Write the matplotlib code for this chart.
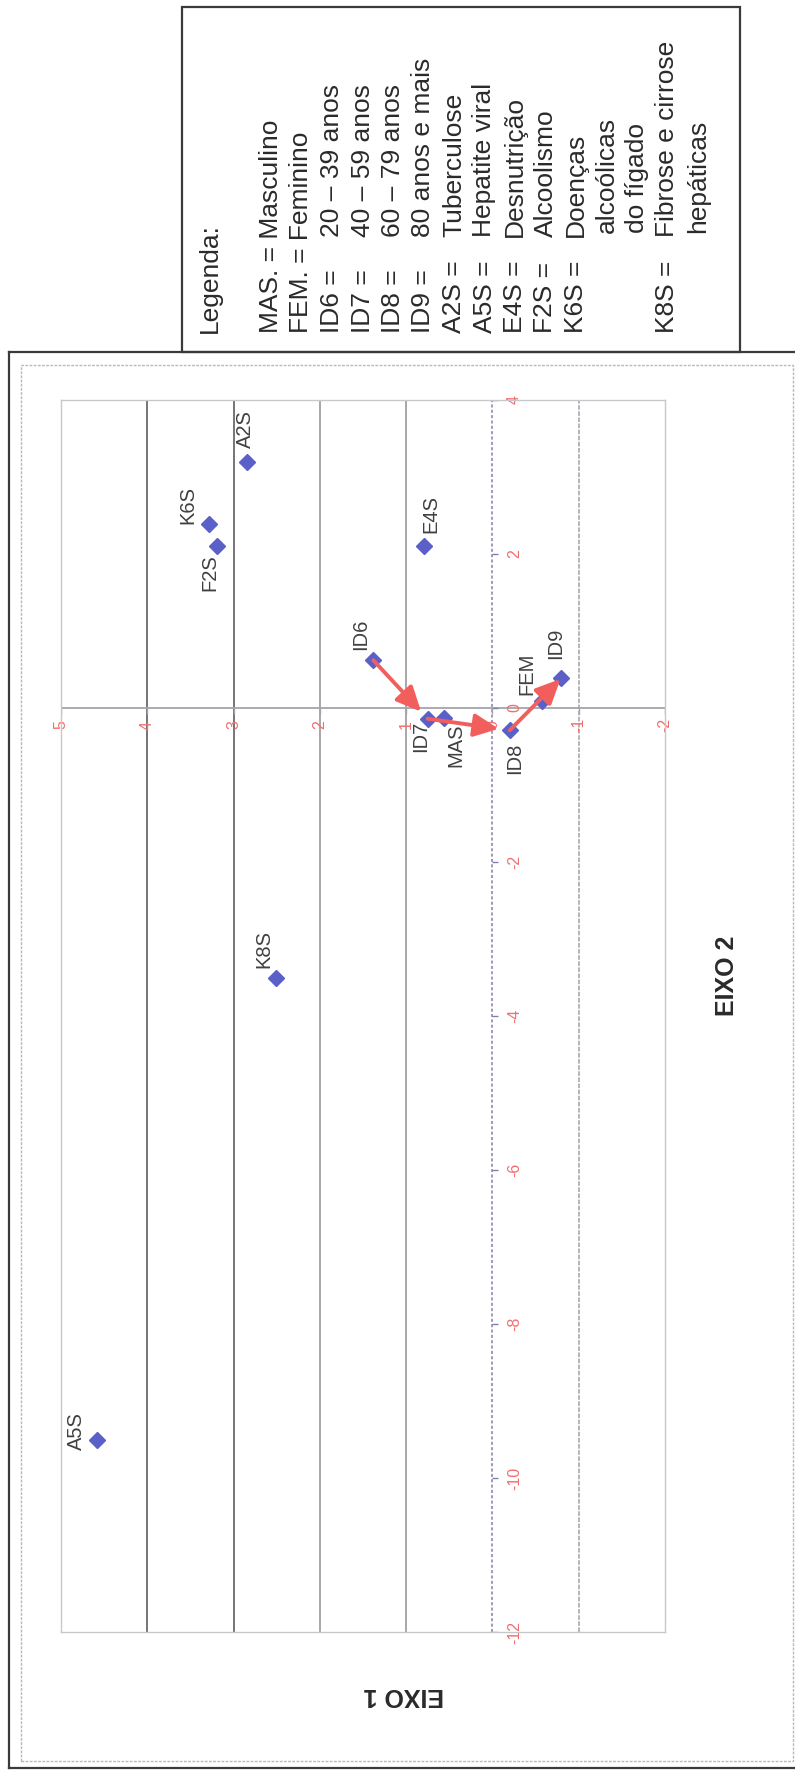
import matplotlib
matplotlib.use("Agg")
import matplotlib.pyplot as plt
from matplotlib.patches import Rectangle
from matplotlib.lines import Line2D

plt.rcParams['font.family'] = ['Liberation Sans', 'DejaVu Sans']

# Correspondence analysis coordinates (EIXO 1, EIXO 2)
names = ["A2S", "K6S", "F2S", "E4S", "ID6", "ID7", "MAS", "ID8", "FEM", "ID9", "K8S", "A5S"]
eixo1 = [2.85, 3.29, 3.19, 0.79, 1.38, 0.75, 0.56, -0.20, -0.58, -0.80, 2.51, 4.58]
eixo2 = [3.20, 2.39, 2.11, 2.11, 0.62, -0.14, -0.13, -0.29, 0.09, 0.39, -3.51, -9.51]

# age-group trajectory drawn with arrows
age_path = ["ID6", "ID7", "ID8", "ID9"]

eixo1_ticks = [5, 4, 3, 2, 1, 0, -1, -2]
eixo2_ticks = [4, 2, 0, -2, -4, -6, -8, -10, -12]

legend_keys = ["MAS.", "FEM.", "ID6", "ID7", "ID8", "ID9", "A2S", "A5S", "E4S",
               "F2S", "K6S", "", "", "K8S", ""]
legend_desc = ["Masculino", "Feminino", "20 – 39 anos", "40 – 59 anos", "60 – 79 anos",
               "80 anos e mais", "Tuberculose", "Hepatite viral", "Desnutrição",
               "Alcoolismo", "Doenças", "alcoólicas", "do fígado", "Fibrose e cirrose",
               "hepáticas"]

W, H = 795, 1771
fig = plt.figure(figsize=(W / 100, H / 100), dpi=100)
fig.patch.set_facecolor("white")


def fxy(x, y):
    # page pixel position (origin top-left) -> figure fraction
    return x / W, 1 - y / H


# outer frame (right side runs off the page) and inner dotted frame
for xs, ys in [([9, 9], [352, 1768]), ([9, 800], [352, 352]), ([9, 800], [1768, 1768])]:
    fig.add_artist(Line2D([x / W for x in xs], [1 - y / H for y in ys],
                          color="#3a3a3a", lw=1.6))
fig.add_artist(Rectangle(fxy(21, 1761), 772 / W, 1396 / H, fill=False,
                         ec="#b8b8c0", lw=1.0, ls=(0, (2, 1))))

# legend box
fig.add_artist(Rectangle(fxy(182, 352), 558 / W, 345 / H, fc="white",
                         ec="#3a3a3a", lw=1.6))
txt_kw = dict(rotation=90, rotation_mode="anchor", ha="left", va="baseline",
              fontsize=19, color="#2a2a2a")
fig.text(*fxy(217, 333), "Legenda:", **txt_kw)
for i, (k, d) in enumerate(zip(legend_keys, legend_desc)):
    bx = 278 + 30.5 * i
    if k in ("MAS.", "FEM."):
        fig.text(*fxy(bx, 333), f"{k} = {d}", **txt_kw)
    elif k:
        fig.text(*fxy(bx, 333), f"{k} =", **txt_kw)
        fig.text(*fxy(bx, 237), d, **txt_kw)
    else:
        fig.text(*fxy(bx, 233), d, **txt_kw)

# plot area: EIXO 1 runs right-to-left, EIXO 2 bottom-to-top
ax = fig.add_axes([61 / W, 1 - 1632 / H, 604 / W, 1232 / H])
ax.set_xlim(5, -2)
ax.set_ylim(-12, 4)
ax.set_xticks([])
ax.set_yticks([])
for sp in ax.spines.values():
    sp.set_color("#c8c8cc")
    sp.set_linewidth(1.0)

grid_style = {4: ("#505050", "-"), 3: ("#505050", "-"), 2: ("#909090", "-"),
              1: ("#909090", "-"), -1: ("#a0a0a8", (0, (3, 1)))}
for v, (c, ls) in grid_style.items():
    ax.axvline(v, color=c, ls=ls, lw=1.1, zorder=1)
ax.axvline(0, color="#8080b0", ls=(0, (2, 1.5)), lw=1.1, zorder=1)
ax.axhline(0, color="#a4a4ac", lw=1.3, zorder=1)

# tick marks and labels on both axes
ax.plot([0] * len(eixo2_ticks), eixo2_ticks, ls="none", marker=1, ms=4,
        color="#8080b0", zorder=1)
ax.plot(eixo1_ticks, [0] * len(eixo1_ticks), ls="none", marker=3, ms=4,
        color="#a4a4ac", zorder=1)
tick_kw = dict(textcoords="offset pixels", rotation=90, ha="center", va="center",
               fontsize=11.5, color="#f26e6e", zorder=2)
for v in eixo2_ticks:
    ax.annotate(f"{v}", (0, v), xytext=(22, 0), **tick_kw)
for v in eixo1_ticks:
    ax.annotate(f"{v}", (v, 0), xytext=(0, -17), **tick_kw)

ax.plot(eixo1, eixo2, ls="none", marker="D", ms=8, color="#5b60c8",
        mec="#5b60c8", zorder=4)

label_offsets = {"A2S": (-1, 33), "K6S": (-21, 19), "F2S": (-7, -27), "E4S": (7, 32),
                 "ID6": (-13, 26), "ID7": (-7, -18), "MAS": (12, -27), "ID8": (5, -28),
                 "FEM": (-16, 27), "ID9": (-6, 35), "K8S": (-12, 29), "A5S": (-21, 9)}
for n, x, y in zip(names, eixo1, eixo2):
    ax.annotate(n, (x, y), xytext=label_offsets[n], textcoords="offset pixels",
                rotation=90, ha="center", va="center", fontsize=14.5, color="#404040",
                zorder=5)

pos = {n: (x, y) for n, x, y in zip(names, eixo1, eixo2)}
for (a, b), shrink in zip(zip(age_path[:-1], age_path[1:]), [7, 8, 1]):
    ax.annotate("", xy=pos[b], xytext=pos[a],
                arrowprops=dict(arrowstyle="-|>,head_length=0.75,head_width=0.35",
                                color="#f25e5c", lw=2.8, shrinkA=0, shrinkB=shrink,
                                mutation_scale=20),
                zorder=6)

fig.text(*fxy(727, 976), "EIXO 2", rotation=90, ha="center", va="center",
         fontsize=18, fontweight="bold", color="#2a2a2a")
fig.text(*fxy(404, 1695), "EIXO 1", rotation=180, ha="center", va="center",
         fontsize=18, fontweight="bold", color="#2a2a2a")

fig.savefig("out.png", dpi=100)
